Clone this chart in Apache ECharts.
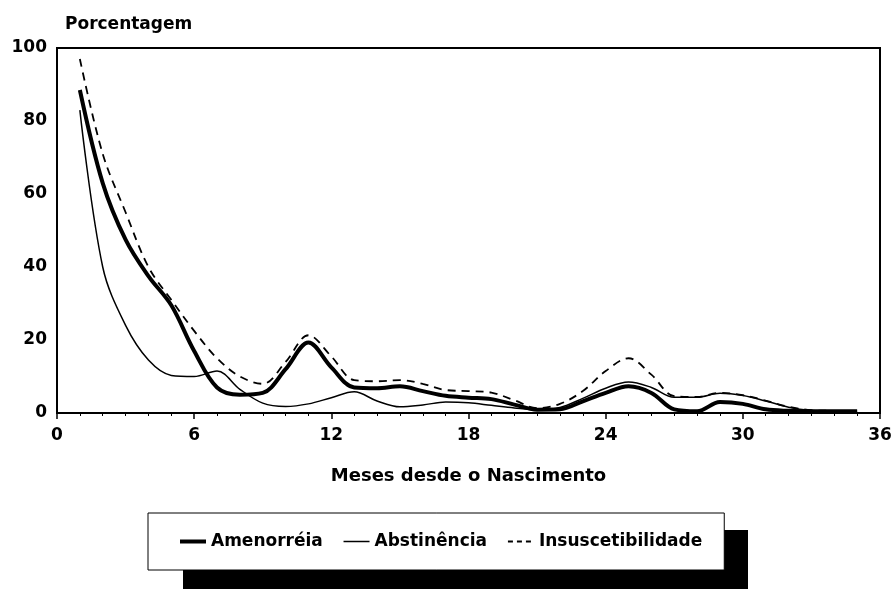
<!DOCTYPE html>
<html>
<head>
<meta charset="utf-8">
<script src="https://cdn.jsdelivr.net/npm/echarts@6/dist/echarts.min.js"></script>
<style>html,body{margin:0;padding:0;background:#fff;}#c{width:895px;height:589px;}</style>
</head>
<body>
<div id="c"></div>
<script>
const months = [1,2,3,4,5,6,7,8,9,10,11,12,13,14,15,16,17,18,19,20,21,22,23,24,25,26,27,28,29,30,31,32,33,34,35];
const amenorreia = [88.5,63,47.5,37.5,29.5,17,7,5,5.5,12,19.3,12.5,7,6.8,7.3,6,4.7,4.2,3.8,2.3,0.9,1,3.2,5.5,7.3,5.5,1,0.5,3,2.5,1,0.6,0.5,0.5,0.5];
const abstinencia = [83,40,24,14.5,10.3,10,11.5,6.5,2.7,1.8,2.5,4.2,5.8,3.3,1.7,2.2,3,2.8,2.1,1.4,0.9,1.5,4,6.8,8.5,7,4.3,4.3,5.4,4.8,3.3,1.6,0.7,0.5,0.5];
const insuscetibilidade = [97,71,55,40,31,22.5,15,10,8,14,21.3,15.5,9,8.7,9,8,6.3,6,5.6,3.5,1.3,2.5,6,11.5,15,10.5,4.6,4.4,5.5,4.9,3.4,1.7,0.8,0.6,0.6];
const seriesNames = ['Amenorréia','Abstinência','Insuscetibilidade'];
const xTicks = [0,6,12,18,24,30,36];
const yTicks = [0,20,40,60,80,100];

const pairs = arr => months.map((m,i)=>[m, arr[i]]);
const F = 'DejaVu Sans';
const widths = [4, 1.5, 1.8];
const dashes = ['solid', 'solid', [5,4]];
const chart = echarts.init(document.getElementById('c'), null, {renderer:'canvas'});
chart.setOption({
  animation:false,
  backgroundColor:'#fff',
  title:{text:'Porcentagem', left:60, top:11, textStyle:{fontFamily:F, fontWeight:'bold', fontSize:17, color:'#000'}},
  grid:{left:57, right:15, top:48, bottom:176, show:true, borderColor:'#000', borderWidth:2, backgroundColor:'transparent'},
  graphic:[
    {type:'rect', left:183, top:530, z:-10, shape:{width:565, height:60}, style:{fill:'#000'}}
  ],
  xAxis:{type:'value', min:xTicks[0], max:xTicks[xTicks.length-1], interval:6,
    name:'Meses desde o Nascimento', nameLocation:'middle', nameGap:54,
    nameTextStyle:{fontFamily:F, fontWeight:'bold', fontSize:18, color:'#000'},
    axisLine:{lineStyle:{color:'#000', width:2}},
    axisTick:{show:true, inside:false, length:6, lineStyle:{color:'#000', width:1.5}},
    minorTick:{show:true, splitNumber:6, length:3, lineStyle:{color:'#000', width:1}},
    splitLine:{show:false},
    axisLabel:{fontFamily:F, fontWeight:'bold', fontSize:17, color:'#000', margin:14}},
  yAxis:{type:'value', min:yTicks[0], max:yTicks[yTicks.length-1], interval:20,
    axisLine:{show:true, lineStyle:{color:'#000', width:2}},
    axisTick:{show:false}, splitLine:{show:false},
    axisLabel:{fontFamily:F, fontWeight:'bold', fontSize:17, color:'#000', margin:10}},
  legend:{left:148, top:513, orient:'horizontal', z:10,
    data:seriesNames.map((n,i)=>({name:n, lineStyle:{width:widths[i], type:dashes[i], color:'#000'}})),
    itemWidth:26, itemHeight:12, itemGap:20,
    padding:[20,22,20,30],
    backgroundColor:'#fff', borderColor:'#000', borderWidth:1,
    itemStyle:{opacity:0, color:'transparent', borderWidth:0},
    textStyle:{fontFamily:F, fontWeight:'bold', fontSize:17, color:'#000'}},
  series:[
    {name:seriesNames[0], type:'line', data:pairs(amenorreia), smooth:0.35, showSymbol:false, symbol:'none',
      lineStyle:{color:'#000', width:widths[0]}, itemStyle:{color:'#000'}, z:3},
    {name:seriesNames[1], type:'line', data:pairs(abstinencia), smooth:0.35, showSymbol:false, symbol:'none',
      lineStyle:{color:'#000', width:widths[1]}, itemStyle:{color:'#000'}, z:2},
    {name:seriesNames[2], type:'line', data:pairs(insuscetibilidade), smooth:0.35, showSymbol:false, symbol:'none',
      lineStyle:{color:'#000', width:widths[2], type:[8,6]}, itemStyle:{color:'#000'}, z:2}
  ]
});
</script>
</body>
</html>
